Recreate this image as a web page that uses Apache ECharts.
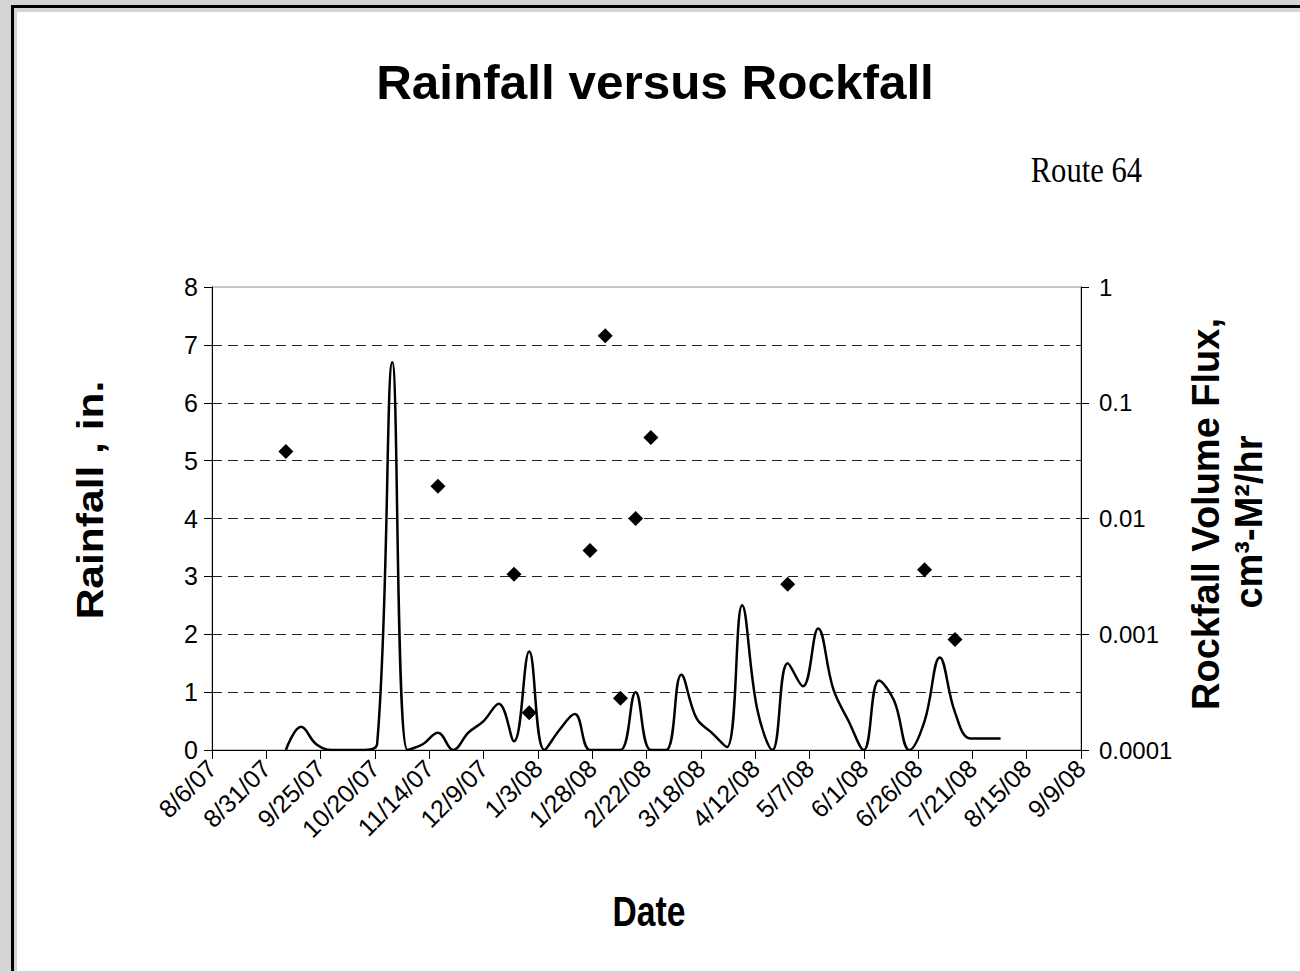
<!DOCTYPE html>
<html><head><meta charset="utf-8">
<script src="https://cdn.jsdelivr.net/npm/echarts@6/dist/echarts.min.js"></script>
<style>
html,body{margin:0;padding:0;width:1300px;height:974px;overflow:hidden;background:#d4d4d4;}
#frame{position:absolute;left:11px;top:5px;width:1289px;height:966px;border-left:3px solid #000;border-top:3px solid #000;box-sizing:border-box;}
#panel{position:absolute;left:17px;top:12px;width:1283px;height:959px;background:#fff;}
#chart{position:absolute;left:0;top:0;width:1300px;height:974px;}
</style></head><body>
<div id="frame"></div><div id="panel"></div><div id="chart"></div>
<script>
// ---- data ----
const axisStart = '2007-08-06';
const axisEnd = '2008-09-09';
const xTickLabels = ['8/6/07','8/31/07','9/25/07','10/20/07','11/14/07','12/9/07','1/3/08','1/28/08','2/22/08','3/18/08','4/12/08','5/7/08','6/1/08','6/26/08','7/21/08','8/15/08','9/9/08'];
const rainfallTickLabels = ['0','1','2','3','4','5','6','7','8'];
const fluxTickLabels = ['0.0001','0.001','0.01','0.1','1'];

const rainDates = ['2007-09-09','2007-09-16','2007-09-23','2007-09-30','2007-10-07','2007-10-14','2007-10-21','2007-10-28',
  '2007-11-04','2007-11-11','2007-11-18','2007-11-25','2007-12-02','2007-12-09','2007-12-16','2007-12-23','2007-12-30',
  '2008-01-06','2008-01-13','2008-01-20','2008-01-27','2008-02-03','2008-02-10','2008-02-17','2008-02-24',
  '2008-03-02','2008-03-09','2008-03-16','2008-03-23','2008-03-30','2008-04-06','2008-04-13','2008-04-20','2008-04-27',
  '2008-05-04','2008-05-11','2008-05-18','2008-05-25','2008-06-01','2008-06-08','2008-06-15','2008-06-22','2008-06-29',
  '2008-07-06','2008-07-13','2008-07-20','2008-07-27','2008-08-03'];
const rainValues = [0,0.4,0.1,0,0,0,0.1,6.7,
  0,0.1,0.3,0,0.3,0.5,0.8,0.15,1.7,
  0,0.35,0.62,0,0,0,1.0,0,
  0,1.3,0.55,0.3,0.05,2.5,0.7,0,1.5,
  1.1,2.1,1.05,0.5,0,1.2,0.85,0,0.5,
  1.6,0.65,0.2,0.2,0.2];

const rockDates = ['2007-09-09','2007-11-18','2007-12-23','2007-12-30','2008-01-27','2008-02-03','2008-02-10','2008-02-17','2008-02-24','2008-04-27','2008-06-29','2008-07-13'];
const rockValues = [0.038,0.019,0.0033,0.00021,0.0053,0.38,0.00028,0.010,0.050,0.0027,0.0036,0.0009];

// ---- helpers ----
const DAY = 86400000;
const dayOf = d => (Date.parse(d) - Date.parse(axisStart)) / DAY;
const axisSpan = dayOf(axisEnd);
const tickStep = axisSpan / (xTickLabels.length - 1);

const chart = echarts.init(document.getElementById('chart'), null, {renderer: 'svg'});
const FONT = '"Liberation Sans", Arial, sans-serif';

chart.setOption({
  backgroundColor: 'transparent',
  animation: false,
  textStyle: {fontFamily: FONT, color: '#000'},
  grid: {left: 212, right: 219, top: 287, bottom: 224, show: true, borderColor: '#8c8c8c', borderWidth: 1, backgroundColor: 'transparent'},
  xAxis: {
    type: 'value', min: 0, max: axisSpan, interval: tickStep,
    axisLine: {show: true, onZero: false, lineStyle: {color: '#000', width: 1}},
    axisTick: {show: true, length: 9, lineStyle: {color: '#000'}},
    splitLine: {show: false},
    axisLabel: {rotate: 45, fontSize: 25, color: '#000', margin: 14, fontFamily: FONT,
      formatter: v => xTickLabels[Math.round(v / tickStep)] || ''}
  },
  yAxis: [{
    type: 'value', min: 0, max: 8, interval: 1, position: 'left',
    axisLine: {show: true, lineStyle: {color: '#000', width: 1}},
    axisTick: {show: true, length: 8, lineStyle: {color: '#000'}},
    splitLine: {show: true, showMaxLine: false, showMinLine: false, lineStyle: {color: '#222', width: 1, type: [10, 6]}},
    axisLabel: {fontSize: 25, color: '#000', margin: 14, fontFamily: FONT,
      formatter: v => rainfallTickLabels[Math.round(v)]}
  }, {
    type: 'log', logBase: 10, min: 0.0001, max: 1, position: 'right',
    axisLine: {show: true, lineStyle: {color: '#000', width: 1}},
    axisTick: {show: true, length: 8, lineStyle: {color: '#000'}},
    splitLine: {show: false},
    axisLabel: {fontSize: 24, color: '#000', margin: 18, fontFamily: FONT,
      formatter: v => fluxTickLabels[Math.round(Math.log10(v)) + 4]}
  }],
  series: [{
    type: 'line', yAxisIndex: 0, smooth: 0.4, symbol: 'none', clip: true,
    lineStyle: {color: '#000', width: 2.5},
    data: rainDates.map((d, i) => [dayOf(d), rainValues[i]]),
    z: 3
  }, {
    type: 'scatter', yAxisIndex: 1, symbol: 'diamond', symbolSize: 15,
    itemStyle: {color: '#000', opacity: 1},
    data: rockDates.map((d, i) => [dayOf(d), rockValues[i]]),
    z: 4
  }],
  graphic: [
    {type: 'text', x: 655, y: 82, scaleX: 1.03, style: {text: 'Rainfall versus Rockfall', font: 'bold 48px ' + FONT, fill: '#000', align: 'center', verticalAlign: 'middle'}},
    {type: 'text', x: 1142, y: 170, scaleX: 0.85, style: {text: 'Route 64', font: '36px "Liberation Serif", "Times New Roman", serif', fill: '#000', align: 'right', verticalAlign: 'middle'}},
    {type: 'text', x: 649, y: 912, scaleX: 0.8, style: {text: 'Date', font: 'bold 42px ' + FONT, fill: '#000', align: 'center', verticalAlign: 'middle'}},
    {type: 'text', x: 90, y: 500, rotation: Math.PI / 2, scaleX: 1.15, style: {text: 'Rainfall , in.', font: 'bold 37px ' + FONT, fill: '#000', align: 'center', verticalAlign: 'middle'}},
    {type: 'text', x: 1206, y: 514, rotation: Math.PI / 2, style: {text: 'Rockfall Volume Flux,', font: 'bold 38px ' + FONT, fill: '#000', align: 'center', verticalAlign: 'middle'}},
    {type: 'text', x: 1249, y: 522, rotation: Math.PI / 2, style: {text: 'cm³-M²/hr', font: 'bold 38px ' + FONT, fill: '#000', align: 'center', verticalAlign: 'middle'}}
  ]
});
</script>
</body></html>
